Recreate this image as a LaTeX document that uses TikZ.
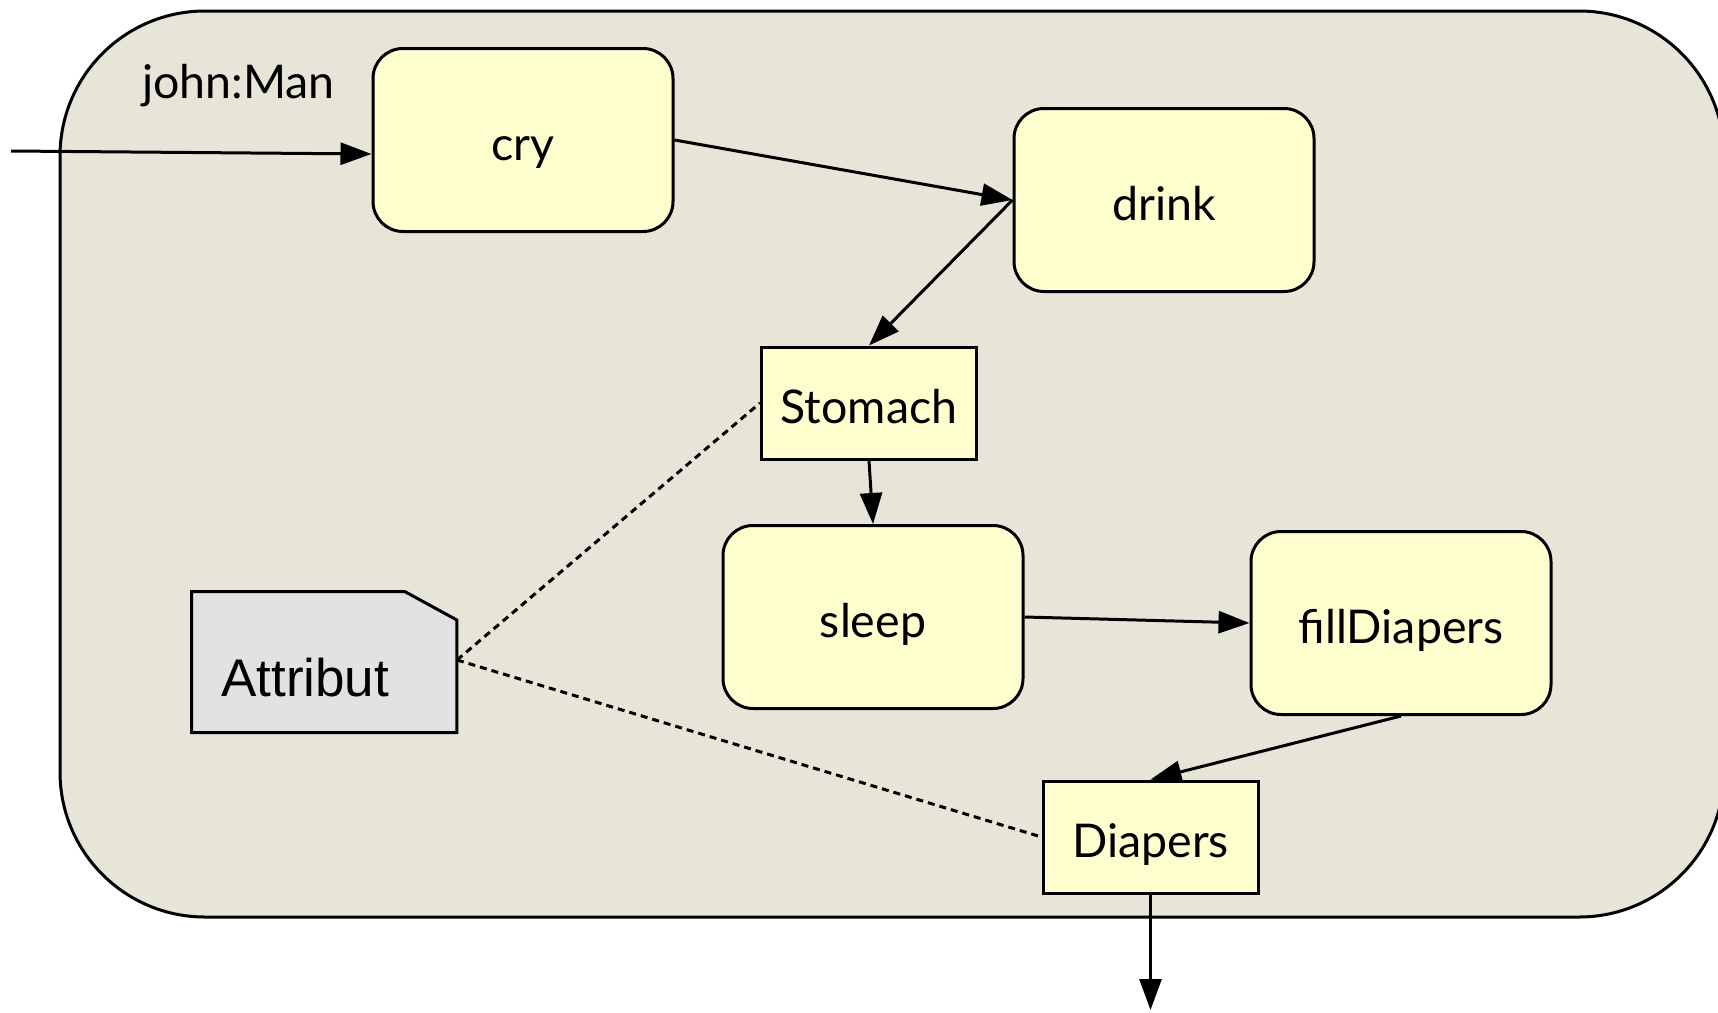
\documentclass[tikz,border=0pt]{standalone}
\usepackage{fontspec}
\setmainfont{Lato}
\newfontfamily\attrfont{Liberation Sans}
\usetikzlibrary{arrows.meta}
\definecolor{contfill}{RGB}{231,229,215}
\definecolor{actfill}{RGB}{254,254,206}
\definecolor{notefill}{RGB}{226,226,226}
\begin{document}
\begin{tikzpicture}[x=1pt,y=-1pt,
  every node/.style={font=\fontsize{46.5}{52}\selectfont, inner sep=0pt},
  actbox/.style={draw=black, line width=3pt, fill=actfill, rounded corners=30pt,
    minimum width=300pt, minimum height=183pt, text height=40pt, text depth=0pt},
  objbox/.style={draw=black, line width=3pt, fill=actfill,
    minimum width=215pt, minimum height=112pt, text height=41pt, text depth=0pt},
  flow/.style={line width=3pt, -{Triangle[length=31pt,width=22pt]}},
  dotline/.style={line width=3pt, dash pattern=on 7pt off 5pt}
]
\useasboundingbox (0,0) rectangle (1718,1012);
% container
\path[draw=black, line width=3pt, fill=contfill, rounded corners=145pt]
  (60,11) rectangle (1724,917);
\node[anchor=base west] (lbl) at (142,98) {john:Man};

% nodes
\node[actbox] (cry) at (523,140) {cry};
\node[actbox] (drink) at (1164,200) {drink};
\node[objbox] (stomach) at (869,403) {Stomach};
\node[actbox] (sleep) at (873,617) {sleep};
\node[actbox] (fill) at (1401,623) {fillDiapers};
\node[objbox] (diapers) at (1150.5,837) {Diapers};

% note
\node[minimum width=265pt, minimum height=140.6pt] (attr) at (324.2,662) {};
\path[draw=black, line width=3pt, fill=notefill]
  (attr.north west) -- (405,591.7) -- (attr.east |- 0,620) -- (attr.south east) -- (attr.south west) -- cycle;
\node[anchor=base west, font=\attrfont\fontsize{53}{58}\selectfont] (attrtext) at (221,696) {Attribut};
\coordinate (attrpt) at (457,660);

% entry / exit
\coordinate (start) at (11,151);
\coordinate (stop) at (1150.5,1010);

\draw[flow] (start) -- ([yshift=-14pt]cry.west);
\draw[flow] (cry.east) -- (drink.west);
\draw[flow] (drink.west) -- (stomach.north);
\draw[flow] (stomach.south) -- (sleep.north);
\draw[flow] (sleep.east) -- (fill.west);
\draw[flow] (fill.south) -- (diapers.north);
\draw[flow] (diapers.south) -- (stop);

\draw[dotline] (attrpt) -- (stomach.west);
\draw[dotline] (attrpt) -- (diapers.west);
\end{tikzpicture}
\end{document}
